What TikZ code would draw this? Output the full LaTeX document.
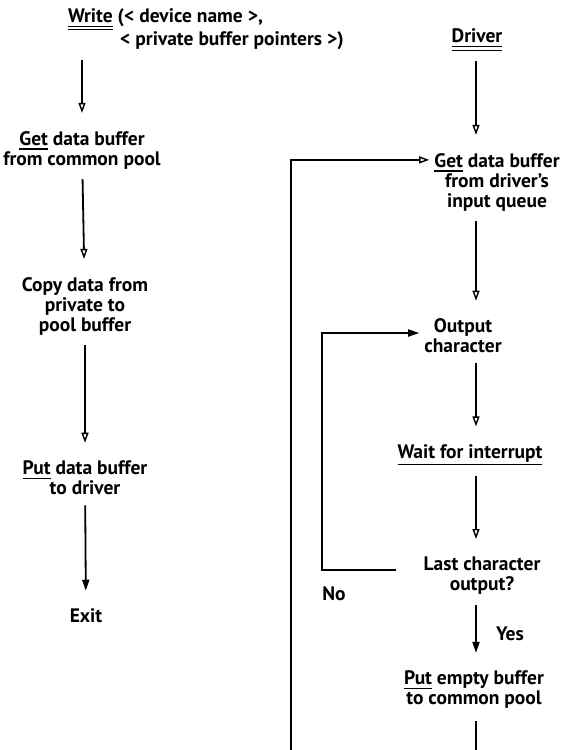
\documentclass[tikz,border=0pt]{standalone}
\usepackage{fontspec}
\setmainfont{PT Sans}
\usetikzlibrary{arrows.meta}

% single and double underline with a heavier rule
\newcommand\undl[2][4.5pt]{{\setbox0=\hbox{#2}\rlap{\rule[-#1]{\wd0}{1.5pt}}\box0}}
\newcommand\dundl[1]{{\setbox0=\hbox{#1}\rlap{\rule[-4.5pt]{\wd0}{1.3pt}}\rlap{\rule[-8pt]{\wd0}{1.3pt}}\box0}}

\begin{document}
\begin{tikzpicture}[x=1pt, y=-1pt,
    every node/.style={font=\fontsize{19.5}{20}\selectfont\bfseries, align=center, inner sep=0pt},
    flow/.style={-{Triangle[open, length=10pt, width=7pt, line width=1.4pt]}, line width=1.8pt, shorten <=10pt, shorten >=18pt},
    flowf/.style={-{Triangle[length=11pt, width=7pt]}, line width=1.8pt, shorten <=10pt, shorten >=18pt}]

    \useasboundingbox (0,0) rectangle (568,750);
    \clip (0,0) rectangle (568,750);

    % Write request
    \node[anchor=west, align=left] (write) at (68,29) {\dundl{Write} (< device name >,\\\hspace*{52pt}< private buffer pointers >)};
    \node (wget) at (82,150) {\undl{Get} data buffer\\from common pool};
    \node (copy) at (85,306) {Copy data from\\private to\\pool buffer};
    \node (wput) at (85,478) {\undl{Put} data buffer\\to driver};
    \node (exit) at (86,616) {Exit};

    % Driver
    \coordinate (rcol) at (476,0);
    \node (driver) at (477,40) {\dundl{Driver}};
    \node (dget) at (497,182) {\undl{Get} data buffer\\from driver’s\\input queue};
    \node (output) at (463,336) {Output\\character};
    \node (wait) at (470,455) {\undl[7pt]{Wait for interrupt}};
    \node (last) at (482,576) {Last character\\output?};
    \node (pempty) at (474,690) {\undl{Put} empty buffer\\to common pool};
    \node (no) at (334,594) {No};
    \node (yes) at (510,634) {Yes};

    % Arrows, write side
    \draw[flow] (wget.north |- write.south) -- (wget.north);
    \draw[flow] (wget) -- (copy);
    \draw[flow] (copy) -- (wput);
    \draw[flowf] (wput) -- (exit);

    % Arrows, driver side
    \draw[flow] (driver.south -| rcol) -- (dget.north -| rcol);
    \draw[flow] (dget.south -| rcol) -- (output.north -| rcol);
    \draw[flow] (output.south -| rcol) -- (wait.north -| rcol);
    \draw[flow] (wait.south -| rcol) -- (last.north -| rcol);
    \draw[flowf] (last.south -| rcol) -- (pempty.north -| rcol);

    % Loops back
    \coordinate (inner) at (322,0);
    \coordinate (outer) at (291,760);
    \draw[flowf, shorten <=0pt, shorten >=5pt] ([xshift=-27pt,yshift=6pt]last.west) -| ([yshift=3pt]output.west -| inner) -- ([yshift=3pt]output.west);
    \draw[flow, shorten <=12pt, shorten >=5pt] (pempty.south -| rcol) |- (outer) |- ([yshift=-7pt]dget.north west);

\end{tikzpicture}
\end{document}
